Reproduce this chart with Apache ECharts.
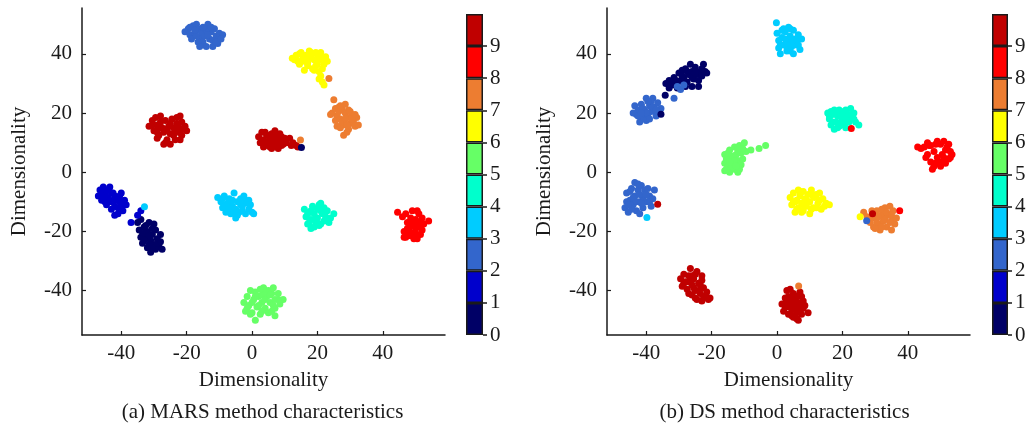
<!DOCTYPE html>
<html><head><meta charset="utf-8">
<script src="https://cdn.jsdelivr.net/npm/echarts@6/dist/echarts.min.js"></script>
<style>html,body{margin:0;padding:0;background:#fff}#c{width:1031px;height:427px}</style>
</head><body><div id="c"></div>
<script>
// ---------- data ----------
const classes = [0,1,2,3,4,5,6,7,8,9];
const classColors = ['#000066','#0000CC','#3366CC','#00CCFF','#00FFCC','#66FF66','#FFFF00','#ED7D31','#FF0000','#C00000'];
const axisTicks = [-40,-20,0,20,40];
const cbTicks = [0,1,2,3,4,5,6,7,8,9];
const xLabel = 'Dimensionality';
const yLabel = 'Dimensionality';
const captionA = '(a) MARS method characteristics';
const captionB = '(b) DS method characteristics';

// (a) MARS
const a0 = [[-35,-17],[-34.5,-19.5],[-34,-16],[-33.5,-21],[-33.5,-24],[-33,-18.5],[-32.5,-22.5],[-32,-25.5],[-32,-20],[-31.5,-17],[-31,-23],[-31,-27],[-30.5,-21],[-30,-24.5],[-29.5,-19.5],[-29.5,-26],[-29,-22.5],[-28.5,-25],[-28,-21],[-27.5,-26],[-34,-22],[-30,-17.5],
  [-33,-20.5],[-32.5,-18],[-31.5,-21.5],[-30.5,-25.5],[-30.5,-19],[-29,-24],[-28,-23.5],[-33,-23],[-31.5,-24.5]];
const a1 = [[-47,-8],[-46.5,-6],[-46,-9.5],[-45.5,-5],[-45,-7.5],[-44.5,-11],[-44,-8.5],[-43.5,-5],[-43,-12.5],[-43,-10],[-42.5,-7],[-42,-14.5],[-41.5,-9.5],[-41,-12],[-40.5,-10],[-40,-7],[-39.5,-13],[-39,-9.5],[-38.5,-11],[-44,-6],[-46,-7],[-42,-8],
  [-45,-10],[-44.5,-6],[-43,-7],[-42,-11.5],[-40.5,-8],[-41,-14],[-45.5,-8.5],[-43.5,-9.5],[-39.5,-11]];
const a2 = [[-20.5,47.5],[-19.5,48.5],[-19,46.5],[-18,49.5],[-17.5,47],[-17,50],[-16.5,48.5],[-16,45.5],[-15.5,47.5],[-15,44],[-14.5,46],[-14,42.5],[-13.5,50],[-13,45],[-12.5,47.5],[-12,42.5],[-11.5,48.5],[-11,46],[-10.5,44],[-10,47],[-9,46.5],[-18.5,45],[-16.5,44],[-14,48],[-12,44.5],[-10.5,43.5],
  [-19,49],[-17,46],[-15,49],[-13.5,46.5],[-11,44],[-12.5,49],[-16,42.5],[-9.5,45],[-17.5,48]];
const a3 = [[-10.5,-8.5],[-9.5,-10],[-9,-12],[-8.5,-8],[-8,-13.5],[-7.5,-10.5],[-7,-9],[-6.5,-14],[-6,-11.5],[-5.5,-7],[-5,-12.5],[-5,-15.5],[-4.5,-10],[-4,-13.5],[-3.5,-9],[-3,-11.5],[-2.5,-8],[-2,-14],[-1.5,-10.5],[-1,-12.5],[0,-13.5],[0.5,-14],[-1,-9.5],[-7,-12],
  [-9,-9],[-8,-11],[-6,-9.5],[-4.5,-14.5],[-3,-13],[-2,-10],[-5.5,-13.5],[-0.5,-11],[-3.5,-11]];
const a4 = [[16,-12.5],[16.5,-15],[17,-17.5],[17.5,-13.5],[18,-16],[18,-19],[18.5,-11.5],[19,-14],[19.5,-17],[20,-12.5],[20,-15.5],[20.5,-18],[21,-10.5],[21.5,-14],[22,-12],[22,-16.5],[23,-13],[23.5,-17],[25,-14],[19,-18.5],
  [17,-14],[18,-13],[19.5,-16],[21,-13],[20.5,-11],[22.5,-15],[17.5,-17],[21,-17.5],[24,-15.5]];
const a5 = [[-2.5,-44],[-2,-47],[-1.5,-42],[-1,-45],[-0.5,-40],[0,-47.5],[0.5,-43],[1,-50],[1,-40.5],[1.5,-45.5],[2,-42],[2.5,-48],[3,-44],[3.5,-39],[4,-46],[4.5,-42],[5,-40],[5,-47.5],[5.5,-44],[6,-41],[6.5,-39],[7,-46],[7,-43],[8,-41],[8.5,-44.5],[9.5,-43],[7,-48.5],[3,-41.5],
  [-1.5,-46],[0,-44],[1,-42],[2,-45],[3,-47],[4,-43],[5.5,-41.5],[6.5,-45],[8,-43],[4,-40],[2.5,-39.5],[6,-47],[-0.5,-48]];
const a6 = [[12.3,38.5],[13.5,39.5],[14,37.5],[15,40.5],[15.5,38.5],[16,34.5],[16.5,39.5],[17,37],[17.5,41],[18,39],[18.5,35],[19,38],[19.5,40.5],[20,36.5],[20.5,34],[21,40.5],[21.5,38.5],[21,32.5],[22,36.5],[22.5,39],[21.5,30.5],[22,29.5],[20.5,31.5],[19,34.5],[14.5,36.5],[17,36],
  [13,38],[14.5,40],[16,37.5],[18,40.5],[19.5,36],[20.5,38],[21.5,35],[23,37.5],[17.5,38.5],[20,39.5]];
const a7 = [[25,24.5],[24.5,20],[25.5,21.5],[26,19],[26.5,22],[26,15.5],[27,18],[27.5,21.5],[28,16],[28.5,20],[28,12.5],[29,18.5],[29.5,21],[30,16.5],[30.5,19.5],[31,17],[31.5,15.5],[32,18.5],[32.5,16],[27,15],[28.5,23],[29.5,14.5],[24,19.5],[30,20.5],
  [25.5,17.5],[26.5,20.5],[27.5,17],[28.5,18],[29,16],[30.5,18],[31.5,19.5],[27,22.5],[29,13.5]];
const a8 = [[44.5,-13.5],[46.5,-20],[46.5,-22],[47,-14],[47.5,-17],[48,-19.5],[48.5,-21.5],[48.5,-15.5],[49,-13],[49.5,-18],[50,-20.5],[50,-16],[50.5,-22.5],[51,-14],[51,-18.5],[51.5,-21],[52,-15.5],[52,-19.5],[54,-16.5],[49.5,-22.5],[47.5,-21.5],[50.5,-13],
  [46,-15],[47.5,-19],[48.5,-18],[49,-16.5],[50,-19],[51,-17],[49,-20.5],[52.5,-17.5],[47,-22]];
const a9 = [[-31.5,15.5],[-30.5,17.5],[-30,14],[-29.5,18.5],[-29,16],[-28.5,12.5],[-28,19],[-27.5,15],[-27,9.5],[-27,13.5],[-26.5,17.5],[-26,11],[-25.5,15.5],[-25,13],[-25,9.5],[-24.5,18],[-24,15],[-23.5,11],[-23,16.5],[-22.5,13.5],[-22,19],[-22,11],[-21.5,17],[-21,14.5],[-20.5,15.5],[-20,14],[-23.5,14],[-28.5,15],
  [-30.5,16],[-29,13.5],[-28,17],[-26,14.5],[-25,16.5],[-24,12.5],[-23,18.5],[-22.5,15.5],[-21.5,12.5],[-26.5,10],[-29,11.5],
  [2,12],[2.5,10],[3,13.5],[3.5,11],[4,9],[4.5,12.5],[5,10.5],[5.5,8.5],[6,13],[6.5,11],[7,9.5],[7,14],[7.5,12],[8,8],[8.5,10.5],[9,12],[9.5,9.5],[10,11.5],[11.5,11.5],[12.5,10],[13.5,9],[14,8.5],[4,13.5],[6,8],
  [3,10.5],[4.5,10],[5.5,12],[6.5,9.5],[7.5,10],[8.5,13],[9,9],[3.5,8.5],[10.5,10],[12,9]];
// misplaced points: [x, y, class]
const aOut = [[23.5,31.7,7],[14.8,10.9,7],[15.1,8.4,0],[-37,-17,1],[-35,-14.5,1],[-34,-13,1],[-32.9,-11.7,3]];

// (b) DS
const b0 = [[-34,30],[-33,31],[-32,29.5],[-31.5,32],[-30.5,30],[-30,33.5],[-29.5,31],[-29,34.5],[-28.5,32],[-28,35],[-27.5,30.5],[-27,33],[-26.5,36.5],[-26,34],[-25.5,31.5],[-25,35.5],[-24.5,33],[-24,29],[-23.5,34],[-23,32.5],[-22.5,36.5],[-22,34],[-21.5,33.5],[-26,29],[-33,28.5],
  [-32.5,30.5],[-31,31],[-29,32.5],[-27.5,34],[-26,32],[-25,33.5],[-23,35],[-24,31],[-30.5,28.5],[-28,29]];
const b1 = [];
const b2 = [[-43.5,22.5],[-43,19.5],[-42.5,21],[-42,17],[-41.5,23],[-41,18.5],[-40.5,21],[-40,25],[-39.5,19.5],[-39,22.5],[-38.5,20.5],[-38,25],[-37.5,22],[-37,19],[-36.5,23.5],[-36,21],[-35.5,21.5],[-40,17.5],[-38.5,24],[-44,20],
  [-42.5,19],[-41,21.5],[-40,20],[-39,18],[-38,22],[-37,21],[-41.5,20],[-39.5,24],
  [-46.5,-12],[-46,-7],[-45.5,-13.5],[-45,-9.5],[-44.5,-5.5],[-44,-11],[-43.5,-3.5],[-43.5,-8],[-43,-13],[-42.5,-6],[-42,-10],[-41.5,-4.5],[-41,-8.5],[-41,-12],[-40.5,-6],[-40,-10],[-39.5,-5.5],[-39,-8],[-38.5,-11.5],[-38,-9],[-37.5,-6],[-46,-10],[-42,-14],
  [-45,-6.5],[-44,-8.5],[-43,-10],[-42,-7.5],[-41.5,-10.5],[-40,-7.5],[-39,-10],[-44.5,-12.5],[-42.5,-4],[-45.5,-11]];
const b3 = [[-0.2,50.5],[0,47],[0.5,44.5],[0.5,42],[1,40],[1.5,45.5],[2,43],[2.5,47.5],[3,41],[3.5,44],[3.5,49],[4,46],[4.5,42.5],[5,40],[5,48],[5.5,45],[6,43],[6.5,46.5],[7,41.5],[7.5,45],[2,48.5],[4.5,44.5],
  [1,43],[1.5,48],[2.5,45],[3,42.5],[4,48.5],[5,44],[6,44.5],[4,41],[6.5,43]];
const b4 = [[15.5,20],[16,18],[16.5,16],[17,19.5],[17.5,14.5],[17.5,21],[18,17],[18.5,19],[19,15.5],[19.5,20.5],[20,18],[20.5,16],[21,21],[21.5,19],[22,17],[22.5,21.5],[23,18.5],[23.5,20],[24,17],[25,16],[19,21],[21,15],
  [16,19],[17,17],[18,20],[18.5,15],[20,20],[21,17.5],[22,19.5],[23.5,18],[19.5,17],[16.5,20.5]];
const b5 = [[-16,6],[-16,3],[-16,0.5],[-15.5,4.5],[-15,2],[-14.5,7.5],[-14.5,0],[-14,5],[-13.5,3],[-13,8.5],[-13,1],[-12.5,6],[-12,4],[-12,0],[-11.5,9],[-11,2.5],[-11,6.5],[-10.5,4.5],[-10,10],[-9.5,7],[-8,7.5],[-5.5,8],[-3.5,9],[-13.5,5.5],
  [-15.5,1],[-15,6.5],[-14,2],[-13,4],[-12,7.5],[-11.5,1],[-10.5,8],[-12.5,2],[-14.5,3.5]];
const b6 = [[4,-8.5],[4.5,-11],[5,-7],[5.5,-13.5],[6,-9.5],[6.5,-6],[6.5,-12],[7,-8],[7.5,-10.5],[8,-13],[8,-6.5],[8.5,-9],[9,-11.5],[9.5,-7.5],[10,-14],[10,-10],[10.5,-6],[11,-12],[11.5,-8.5],[12.5,-10.5],[13,-7],[13.5,-12.5],[14,-9],[15,-10.5],[16,-11],[5.5,-10],
  [5,-10],[6,-12.5],[7,-6.5],[8,-11],[9,-9.5],[10.5,-12.5],[12,-7.5],[12,-12],[13,-9.5],[11,-8],[7.5,-13.5],[14.5,-11.5]];
const b7 = [[26.5,-13.5],[27.5,-15],[28.5,-17],[29,-13],[29.5,-18.5],[30,-15.5],[30.5,-13],[31,-17.5],[31.5,-19.5],[32,-14.5],[32.5,-16.5],[33,-12],[33.5,-18.5],[34,-14.5],[34.5,-11.5],[35,-16.5],[35,-19.5],[35.5,-13],[36,-17.5],[32,-12.5],[28,-15.5],
  [29,-15],[30.5,-17],[31,-15],[32,-18.5],[33,-16],[33.5,-13.5],[34.5,-17],[35,-14.5],[30,-19],[36.5,-15.5]];
const b8 = [[43,8.5],[45,8.5],[45.5,5],[46,10],[47,3.5],[47.5,1],[48,7],[48,2],[49,10.5],[49,5],[50,9.5],[50,2],[50.5,6],[51,10.5],[51.5,3],[52,8.5],[52.5,4.5],[53,7],[53.5,6],[51,5],[46.5,9],
  [44,8],[46,6],[47,9],[48.5,9.5],[51.5,7.5],[52.5,9.5],[53,5],[50,3.5],[48.5,3]];
const b9 = [[-29.5,-36],[-29,-38.5],[-28.5,-34.5],[-28,-37],[-27.5,-39.5],[-27,-35],[-26.5,-32.5],[-26,-38],[-26,-41.5],[-25.5,-36],[-25,-40],[-24.5,-43],[-24.5,-33.5],[-24,-37.5],[-23.5,-41],[-23,-35],[-23,-43.5],[-22.5,-39],[-22,-42],[-21.5,-40.5],[-20.5,-42.5],[-25,-34.5],[-27,-41],
  [-28.5,-37.5],[-27,-37],[-25.5,-39],[-24,-40],[-23.5,-38],[-22.5,-42],[-21,-43],[-26,-35],[-25,-42.5],[-23,-36.5],
  [1.5,-44.5],[2,-47],[2.5,-42.5],[3,-40],[3,-45.5],[3.5,-48],[4,-43],[4.5,-46.5],[5,-41],[5,-49],[5.5,-44.5],[6,-47.5],[6,-42],[6.5,-50],[7,-45.5],[7,-40.5],[7.5,-48],[8,-43.5],[8,-46],[9.5,-47.5],[4,-39.5],[5.5,-46],
  [2.5,-45.5],[3.5,-42],[4.5,-44.5],[5.5,-42.5],[6.5,-44],[7,-47],[8.5,-45],[4.5,-48.5],[6,-49.5],[3,-43.5],[7.5,-42]];
const bOut = [[-35.5,19.6,0],[-34.2,26,0],[-31.5,25,2],[-30.5,29,2],[-29.5,28,2],[-28.5,29.5,2],[22.7,14.8,8],[-36.5,-10.8,9],[-39.8,-15.3,3],[25.4,-15,6],[27.4,-16.4,2],[29.2,-14,9],[37.5,-13,8],[6.6,-38.4,7]];

const plotA = [a0,a1,a2,a3,a4,a5,a6,a7,a8,a9];
const plotB = [b0,b1,b2,b3,b4,b5,b6,b7,b8,b9];

// ---------- chart ----------
const FONT = '"Liberation Serif","Times New Roman",serif';
const INK = '#1a1a1a';
const chart = echarts.init(document.getElementById('c'), null, {renderer:'canvas'});

const grids = [
  {left:82, top:8, width:363, height:327},
  {left:607, top:8, width:363, height:327},
  {left:466, top:14, width:17, height:321},
  {left:992, top:14, width:16, height:321}
];

function mainX(i){
  return {gridIndex:i, type:'value', min:-52, max:59,
    name:xLabel, nameLocation:'middle', nameGap:35,
    nameTextStyle:{fontFamily:FONT, fontSize:21, color:INK},
    axisLine:{show:true, onZero:false, lineStyle:{color:INK, width:1.5}},
    axisTick:{show:true, inside:true, length:4, customValues:axisTicks, lineStyle:{color:INK, width:1.2}},
    axisLabel:{customValues:axisTicks, fontFamily:FONT, fontSize:21, color:INK, margin:8},
    splitLine:{show:false}};
}
function mainY(i){
  return {gridIndex:i, type:'value', min:-55, max:55.5,
    name:yLabel, nameLocation:'middle', nameGap:52,
    nameTextStyle:{fontFamily:FONT, fontSize:21, color:INK},
    axisLine:{show:true, onZero:false, lineStyle:{color:INK, width:1.5}},
    axisTick:{show:true, inside:true, length:4, customValues:axisTicks, lineStyle:{color:INK, width:1.2}},
    axisLabel:{customValues:axisTicks, fontFamily:FONT, fontSize:21, color:INK, margin:10},
    splitLine:{show:false}};
}
function cbX(i){
  return {gridIndex:i, type:'category', data:['cb'], show:false};
}
function cbY(i){
  return {gridIndex:i, type:'value', min:0, max:10, position:'right',
    axisLine:{show:false},
    axisTick:{show:true, inside:false, length:4, customValues:cbTicks, lineStyle:{color:INK, width:1.5}},
    axisLabel:{customValues:cbTicks, fontFamily:FONT, fontSize:21, color:INK, margin:7},
    splitLine:{show:false}};
}

const series = [];
[plotA, plotB].forEach((plot, p) => {
  plot.forEach((pts, cls) => {
    series.push({type:'scatter', xAxisIndex:p, yAxisIndex:p, data:pts, symbol:'circle', symbolSize:7,
      itemStyle:{color:classColors[cls], opacity:1}, silent:true, animation:false});
  });
});
[aOut, bOut].forEach((pts, p) => {
  series.push({type:'scatter', xAxisIndex:p, yAxisIndex:p, data:pts, symbol:'circle', symbolSize:7,
    encode:{x:0, y:1},
    itemStyle:{color:(prm)=>classColors[prm.data[2]], opacity:1}, silent:true, animation:false, z:3});
});
[2,3].forEach(gi => {
  classes.forEach(cls => {
    series.push({type:'bar', xAxisIndex:gi, yAxisIndex:gi, stack:'cb'+gi, data:[1], barWidth:'100%',
      itemStyle:{color:classColors[cls], borderColor:INK, borderWidth:1.5}, silent:true, animation:false});
  });
});

chart.setOption({
  backgroundColor:'#fff',
  animation:false,
  grid:grids,
  xAxis:[mainX(0), mainX(1), cbX(2), cbX(3)],
  yAxis:[mainY(0), mainY(1), cbY(2), cbY(3)],
  series:series,
  graphic:[
    {type:'text', x:262.5, y:412, style:{text:captionA, font:'21px '+FONT, fill:INK, align:'center', verticalAlign:'middle', textAlign:'center', textVerticalAlign:'middle'}},
    {type:'text', x:784.5, y:412, style:{text:captionB, font:'21px '+FONT, fill:INK, align:'center', verticalAlign:'middle', textAlign:'center', textVerticalAlign:'middle'}}
  ]
});
</script>
</body></html>
